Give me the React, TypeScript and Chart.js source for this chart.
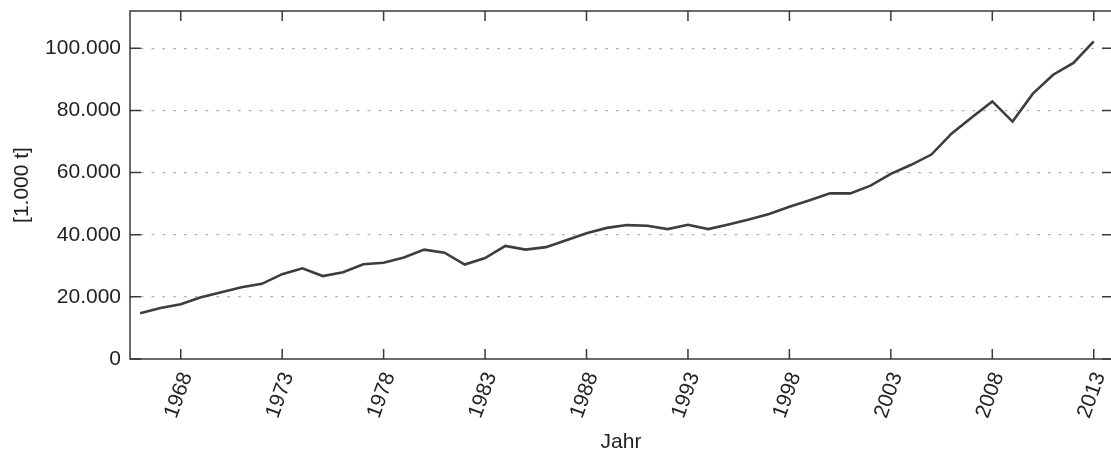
import React, { useEffect, useRef } from "react";
import { Chart, registerables } from "chart.js";

Chart.register(...registerables);

const YEARS = [
  1966, 1967, 1968, 1969, 1970, 1971, 1972, 1973, 1974, 1975, 1976, 1977,
  1978, 1979, 1980, 1981, 1982, 1983, 1984, 1985, 1986, 1987, 1988, 1989,
  1990, 1991, 1992, 1993, 1994, 1995, 1996, 1997, 1998, 1999, 2000, 2001,
  2002, 2003, 2004, 2005, 2006, 2007, 2008, 2009, 2010, 2011, 2012, 2013,
];

const VALUES = [
  14700, 16400, 17600, 19900, 21500, 23100, 24200, 27300, 29200, 26700, 27900, 30500,
  31000, 32700, 35200, 34200, 30400, 32500, 36400, 35200, 36000, 38200, 40500, 42200,
  43100, 42900, 41800, 43200, 41800, 43300, 44900, 46700, 49000, 51100, 53300, 53300,
  55800, 59600, 62500, 65800, 72600, 77800, 82900, 76400, 85400, 91500, 95300, 102200,
];

const X_TICKS = [1968, 1973, 1978, 1983, 1988, 1993, 1998, 2003, 2008, 2013];
const Y_TICKS = [0, 20000, 40000, 60000, 80000, 100000];

const X_TITLE = "Jahr";
const Y_TITLE = "[1.000 t]";

const FONT = "'Liberation Sans', Arial, sans-serif";
const TEXT = "#222222";
const AXIS = "#3a3a3a";

const fmt = (v: number) =>
  String(Math.round(v)).replace(/\B(?=(\d{3})+(?!\d))/g, ".");

const boxTicks = {
  id: "boxTicks",
  afterDraw(chart: any) {
    const { ctx, chartArea } = chart;
    const xs = chart.scales.x;
    const ys = chart.scales.y;
    const { left, right, top, bottom } = chartArea;
    ctx.save();
    ctx.strokeStyle = AXIS;
    ctx.lineWidth = 1.5;
    ctx.beginPath();
    ctx.rect(left, top, right - left, bottom - top);
    ctx.stroke();
    ctx.beginPath();
    for (const t of X_TICKS) {
      const px = xs.getPixelForValue(t);
      ctx.moveTo(px, bottom);
      ctx.lineTo(px, bottom - 10);
      ctx.moveTo(px, top);
      ctx.lineTo(px, top + 10);
    }
    for (const t of Y_TICKS) {
      const py = ys.getPixelForValue(t);
      ctx.moveTo(left, py);
      ctx.lineTo(left + 11, py);
      ctx.moveTo(right, py);
      ctx.lineTo(right - 10, py);
    }
    ctx.stroke();
    ctx.restore();
  },
};

export default function App() {
  const ref = useRef<HTMLCanvasElement | null>(null);

  useEffect(() => {
    if (!ref.current) return;
    const chart = new Chart(ref.current, {
      type: "line",
      data: {
        datasets: [
          {
            data: YEARS.map((y, i) => ({ x: y, y: VALUES[i] })),
            borderColor: "#3d3d3d",
            borderWidth: 2.6,
            pointRadius: 0,
            tension: 0,
            fill: false,
          },
        ],
      },
      options: {
        responsive: false,
        animation: false,
        devicePixelRatio: 1,
        layout: { padding: { left: 0, top: 11, right: 13, bottom: 0 } },
        plugins: {
          legend: { display: false },
          tooltip: { enabled: false },
        },
        scales: {
          x: {
            type: "linear",
            min: 1965.5,
            max: 2013.9,
            afterBuildTicks: (scale: any) => {
              scale.ticks = X_TICKS.map((v) => ({ value: v }));
            },
            afterFit: (scale: any) => {
              scale.height = 93;
              scale.paddingLeft = 0;
              scale.paddingRight = 0;
              scale.paddingTop = 0;
              scale.paddingBottom = 0;
            },
            grid: { display: false, drawTicks: false },
            border: { display: false },
            ticks: {
              autoSkip: false,
              minRotation: 70,
              maxRotation: 70,
              padding: 10,
              labelOffset: 6,
              color: TEXT,
              font: { family: FONT, size: 21 },
              callback: (v: any) => String(v),
            },
            title: {
              display: true,
              text: X_TITLE,
              color: TEXT,
              font: { family: FONT, size: 21 },
              padding: { top: 0, bottom: -3 },
            },
          },
          y: {
            type: "linear",
            min: 0,
            max: 112000,
            afterBuildTicks: (scale: any) => {
              scale.ticks = Y_TICKS.map((v) => ({ value: v }));
            },
            afterFit: (scale: any) => {
              scale.width = 130;
              scale.paddingLeft = 0;
              scale.paddingRight = 0;
              scale.paddingTop = 0;
              scale.paddingBottom = 0;
            },
            grid: {
              drawTicks: false,
              color: (c: any) =>
                c.tick && c.tick.value === 0 ? "rgba(0,0,0,0)" : "#b0b0b0",
              lineWidth: 1.3,
            },
            border: { display: false, dash: [2.7, 8.1] },
            ticks: {
              padding: 9,
              color: TEXT,
              font: { family: FONT, size: 21 },
              callback: (v: any) => fmt(Number(v)),
            },
            title: {
              display: true,
              text: Y_TITLE,
              color: TEXT,
              font: { family: FONT, size: 21 },
              padding: { top: 10, bottom: 0 },
            },
          },
        },
      },
      plugins: [boxTicks],
    });
    return () => chart.destroy();
  }, []);

  return (
    <div
      style={{
        position: "fixed",
        left: 0,
        top: 0,
        width: 1111,
        height: 452,
        overflow: "hidden",
        background: "#ffffff",
      }}
    >
      <canvas ref={ref} width={1125} height={452} style={{ display: "block" }} />
    </div>
  );
}
